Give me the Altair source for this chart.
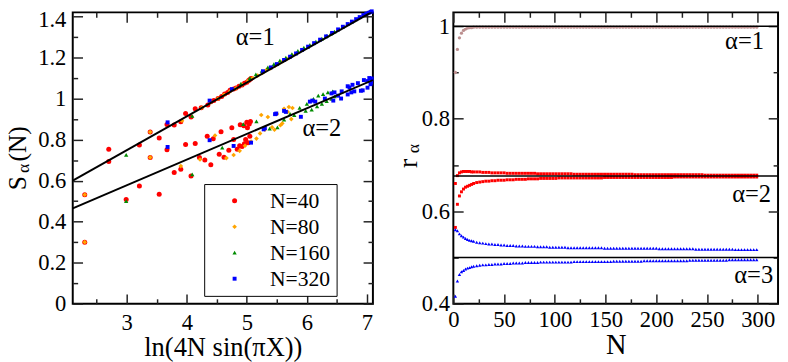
import altair as alt
import pandas as pd

FONT = "Liberation Serif"

# ---------------- left panel: S_alpha(N) vs ln(4N sin(pi X)) ----------------
series_labels = ["N=40", "N=80", "N=160", "N=320"]
series_colors = ["#ff0000", "#ffa500", "#008c00", "#0000ff"]
series_shapes = ["circle", "diamond", "triangle-up", "square"]
series_sizes = [26, 16, 30, 24]

n40_x = [2.30, 2.30, 2.70, 2.70, 2.99, 3.21, 3.21, 3.39, 3.39, 3.54, 3.54, 3.67, 3.67,
         3.79, 3.79, 3.90, 3.90, 3.98, 3.98, 4.07, 4.07, 4.14, 4.14, 4.21, 4.24, 4.30,
         4.34, 4.35, 4.40, 4.40, 4.44, 4.45, 4.52, 4.54, 4.57, 4.58, 4.62, 4.63, 4.68,
         4.70, 4.72, 4.75, 4.78, 4.78, 4.82, 4.84, 4.87, 4.88, 4.89, 4.92, 4.92, 4.95,
         4.96, 4.96, 4.98, 5.00, 5.00, 5.01, 5.02, 5.03, 5.04, 5.05, 5.05, 5.06, 5.07]
n40_y = [0.531, 0.300, 0.753, 0.693, 0.508, 0.774, 0.574, 0.837, 0.713, 0.808, 0.534, 0.874, 0.750,
         0.871, 0.640, 0.887, 0.655, 0.927, 0.776, 0.910, 0.622, 0.950, 0.781, 0.713, 0.955, 0.700,
         0.816, 0.968, 0.677, 0.985, 0.804, 0.990, 1.000, 0.729, 0.838, 1.010, 0.714, 1.022, 1.030,
         0.748, 1.040, 0.858, 0.801, 1.046, 1.052, 0.753, 1.060, 0.770, 0.872, 0.766, 1.066, 0.868,
         1.074, 0.780, 0.800, 0.884, 1.080, 0.858, 0.785, 1.088, 0.876, 0.816, 1.093, 0.888, 1.098]

n80_x = [2.30, 2.30, 3.39, 3.39, 3.90, 3.92, 4.22, 4.25, 4.40, 4.47, 4.52, 4.62, 4.66, 4.72,
         4.78, 4.82, 4.88, 4.92, 4.97, 5.02, 5.07, 5.10, 5.16, 5.18, 5.22, 5.24, 5.26, 5.30,
         5.33, 5.35, 5.40, 5.42, 5.46, 5.47, 5.50, 5.53, 5.56, 5.59, 5.60, 5.62, 5.66, 5.68,
         5.70, 5.71, 5.74, 5.76, 5.76]
n80_y = [0.531, 0.300, 0.837, 0.713, 0.671, 0.892, 0.703, 0.955, 0.983, 0.820, 1.000, 1.018, 0.710, 1.035,
         0.725, 1.050, 0.745, 1.068, 0.770, 1.085, 0.790, 1.100, 0.805, 1.112, 0.830, 0.920, 1.125, 0.848,
         1.140, 0.910, 1.148, 0.860, 0.848, 1.160, 0.925, 1.170, 0.870, 0.879, 1.182, 0.950, 1.192, 0.935,
         0.959, 1.200, 0.900, 0.954, 1.210]

n160_x = [2.99, 2.99, 4.09, 4.09, 4.59, 4.90, 4.94, 5.05, 5.16, 5.15, 5.25, 5.35, 5.38, 5.45,
          5.51, 5.55, 5.62, 5.65, 5.72, 5.75, 5.79, 5.85, 5.88, 5.95, 5.98, 6.00, 6.05, 6.08,
          6.11, 6.15, 6.17, 6.19, 6.25, 6.25, 6.27, 6.33, 6.33, 6.35, 6.40, 6.41, 6.43, 6.46, 6.46]
n160_y = [0.726, 0.500, 0.915, 0.631, 0.761, 1.072, 0.875, 1.100, 0.889, 1.118, 1.135, 1.152, 0.853, 1.168,
          0.860, 1.185, 0.897, 1.200, 0.925, 1.217, 0.919, 1.232, 0.955, 1.248, 0.940, 0.974, 1.262, 0.946,
          0.998, 1.278, 0.962, 1.014, 1.292, 0.974, 1.022, 1.306, 0.987, 1.030, 1.316, 0.998, 1.035, 1.010, 1.326]

n320_x = [3.68, 4.38, 4.75, 5.27, 5.40, 5.50, 5.62, 5.72, 5.82, 5.92, 6.02, 6.12, 6.22, 6.32,
          6.42, 6.52, 6.60, 6.68, 6.75, 6.82, 6.88, 6.94, 6.99, 7.03, 7.06, 7.08,
          3.68, 4.38, 4.78, 5.07, 5.28, 5.30, 5.47, 5.49, 5.62, 5.65, 5.90, 6.05, 6.09, 6.14,
          6.30, 6.41, 6.44, 6.46, 6.52, 6.57, 6.58, 6.68, 6.68, 6.71, 6.74, 6.76, 6.79, 6.85,
          6.90, 6.93, 6.95, 7.01, 7.01, 7.04, 7.06, 7.07, 7.08]
n320_y = [0.884, 0.990, 1.046, 1.133, 1.152, 1.168, 1.188, 1.204, 1.220, 1.237, 1.253, 1.270, 1.287, 1.303,
          1.320, 1.337, 1.350, 1.363, 1.375, 1.387, 1.397, 1.407, 1.414, 1.418, 1.422, 1.425,
          0.764, 0.797, 0.769, 0.785, 0.850, 0.856, 0.924, 0.927, 0.940, 0.935, 0.911, 0.985, 0.990, 0.985,
          1.000, 1.025, 0.990, 1.030, 1.014, 1.000, 1.035, 1.060, 1.020, 1.054, 1.030, 1.067, 1.035, 1.075,
          1.038, 1.040, 1.090, 1.053, 1.085, 1.100, 1.070, 1.078, 1.098]

fit_x = [2.1, 7.1]
fit_a1_y = [0.600, 1.425]
fit_a2_y = [0.465, 1.090]

left_ann_text = ["α=1", "α=2"]
left_ann_x = [5.14, 6.25]
left_ann_y = [1.300, 0.855]

# ---------------- right panel: r_alpha vs N ----------------
n_early = [2, 4, 6, 8, 10, 12, 14, 16, 18, 20]
n_late = list(range(23, 300, 3))

a1_early = [0.900, 0.950, 0.975, 0.985, 0.991, 0.994, 0.996, 0.997, 0.997, 0.998]
a2u_early = [0.660, 0.677, 0.683, 0.685, 0.686, 0.686, 0.686, 0.686, 0.685, 0.685]
a2l_early = [0.565, 0.615, 0.633, 0.642, 0.648, 0.652, 0.654, 0.656, 0.658, 0.660]
a3u_early = [0.560, 0.558, 0.551, 0.547, 0.544, 0.541, 0.539, 0.537, 0.536, 0.535]
a3l_early = [0.416, 0.449, 0.463, 0.469, 0.472, 0.475, 0.477, 0.478, 0.480, 0.481]

a1_late = [
    0.998, 0.998, 0.998, 0.998, 0.998, 0.998, 0.998, 0.998, 0.998, 0.998,
    0.998, 0.998, 0.998, 0.998, 0.998, 0.998, 0.998, 0.998, 0.998, 0.998,
    0.998, 0.998, 0.998, 0.998, 0.998, 0.998, 0.998, 0.998, 0.998, 0.998,
    0.998, 0.998, 0.998, 0.998, 0.998, 0.998, 0.998, 0.998, 0.998, 0.998,
    0.998, 0.998, 0.998, 0.998, 0.998, 0.998, 0.998, 0.998, 0.998, 0.998,
    0.998, 0.998, 0.998, 0.998, 0.998, 0.998, 0.998, 0.998, 0.998, 0.998,
    0.998, 0.998, 0.998, 0.998, 0.998, 0.998, 0.998, 0.998, 0.998, 0.998,
    0.998, 0.998, 0.998, 0.998, 0.998, 0.998, 0.998, 0.998, 0.998, 0.998,
    0.998, 0.998, 0.998, 0.998, 0.998, 0.998, 0.998, 0.998, 0.998, 0.998,
    0.998, 0.998, 0.998]
a2u_late = [
    0.685, 0.685, 0.684, 0.684, 0.684, 0.683, 0.683, 0.683, 0.683, 0.683,
    0.682, 0.682, 0.682, 0.682, 0.682, 0.682, 0.682, 0.682, 0.682, 0.682,
    0.681, 0.681, 0.681, 0.681, 0.681, 0.681, 0.681, 0.681, 0.681, 0.681,
    0.681, 0.681, 0.680, 0.680, 0.680, 0.680, 0.680, 0.680, 0.680, 0.680,
    0.680, 0.680, 0.680, 0.680, 0.680, 0.680, 0.680, 0.680, 0.680, 0.680,
    0.680, 0.680, 0.679, 0.679, 0.679, 0.679, 0.679, 0.679, 0.679, 0.679,
    0.679, 0.679, 0.679, 0.679, 0.679, 0.679, 0.679, 0.679, 0.679, 0.679,
    0.679, 0.679, 0.679, 0.679, 0.679, 0.678, 0.678, 0.678, 0.678, 0.678,
    0.678, 0.678, 0.678, 0.678, 0.678, 0.678, 0.678, 0.678, 0.678, 0.678,
    0.678, 0.678, 0.678]
a2l_late = [
    0.662, 0.663, 0.664, 0.665, 0.665, 0.666, 0.666, 0.667, 0.667, 0.667,
    0.668, 0.668, 0.668, 0.669, 0.669, 0.669, 0.669, 0.670, 0.670, 0.670,
    0.670, 0.671, 0.671, 0.671, 0.671, 0.671, 0.671, 0.672, 0.672, 0.672,
    0.672, 0.672, 0.672, 0.672, 0.672, 0.672, 0.672, 0.672, 0.672, 0.672,
    0.672, 0.672, 0.673, 0.673, 0.673, 0.673, 0.673, 0.673, 0.673, 0.673,
    0.673, 0.673, 0.673, 0.673, 0.673, 0.673, 0.673, 0.673, 0.673, 0.673,
    0.673, 0.673, 0.673, 0.673, 0.673, 0.674, 0.674, 0.674, 0.674, 0.674,
    0.674, 0.674, 0.674, 0.674, 0.674, 0.674, 0.674, 0.674, 0.674, 0.674,
    0.674, 0.674, 0.674, 0.674, 0.674, 0.674, 0.674, 0.674, 0.674, 0.674,
    0.674, 0.674, 0.674]
a3u_late = [
    0.533, 0.532, 0.531, 0.530, 0.529, 0.529, 0.528, 0.528, 0.527, 0.527,
    0.526, 0.526, 0.526, 0.525, 0.525, 0.525, 0.524, 0.524, 0.524, 0.524,
    0.523, 0.523, 0.523, 0.523, 0.522, 0.522, 0.522, 0.522, 0.522, 0.522,
    0.521, 0.521, 0.521, 0.521, 0.521, 0.521, 0.521, 0.521, 0.521, 0.521,
    0.521, 0.521, 0.520, 0.520, 0.520, 0.520, 0.520, 0.520, 0.520, 0.520,
    0.520, 0.520, 0.520, 0.520, 0.520, 0.520, 0.520, 0.520, 0.520, 0.520,
    0.519, 0.519, 0.519, 0.519, 0.519, 0.519, 0.519, 0.519, 0.519, 0.519,
    0.519, 0.519, 0.518, 0.518, 0.518, 0.518, 0.518, 0.518, 0.518, 0.518,
    0.518, 0.518, 0.518, 0.518, 0.518, 0.517, 0.517, 0.517, 0.517, 0.517,
    0.517, 0.517, 0.517]
a3l_late = [
    0.482, 0.483, 0.484, 0.484, 0.485, 0.485, 0.486, 0.486, 0.486, 0.487,
    0.487, 0.487, 0.488, 0.488, 0.488, 0.488, 0.489, 0.489, 0.489, 0.489,
    0.489, 0.490, 0.490, 0.490, 0.490, 0.490, 0.490, 0.490, 0.490, 0.490,
    0.490, 0.490, 0.491, 0.491, 0.491, 0.491, 0.491, 0.491, 0.491, 0.491,
    0.491, 0.491, 0.491, 0.491, 0.491, 0.492, 0.492, 0.492, 0.492, 0.492,
    0.492, 0.492, 0.492, 0.492, 0.492, 0.493, 0.493, 0.493, 0.493, 0.493,
    0.493, 0.493, 0.493, 0.493, 0.493, 0.493, 0.493, 0.493, 0.493, 0.493,
    0.494, 0.494, 0.494, 0.494, 0.494, 0.494, 0.494, 0.494, 0.494, 0.494,
    0.494, 0.494, 0.494, 0.495, 0.495, 0.495, 0.495, 0.495, 0.495, 0.495,
    0.495, 0.495, 0.495]

branch_names = ["a1", "a2u", "a2l", "a3u", "a3l"]
branch_colors = ["#bc8f8f", "#ff0000", "#ff0000", "#0000ff", "#0000ff"]
branch_shapes = ["circle", "square", "square", "triangle-up", "triangle-up"]
branch_sizes = [11, 9, 9, 12, 12]

ref_lines = [1.0, 0.676, 0.5]
right_ann_text = ["α=1", "α=2", "α=3"]
right_ann_x = [287, 294, 296]
right_ann_y = [0.968, 0.637, 0.462]

# ---------------- build tables ----------------
rows = []
for lab, xs, ys in zip(series_labels, [n40_x, n80_x, n160_x, n320_x], [n40_y, n80_y, n160_y, n320_y]):
    rows += [{"x": a, "y": b, "series": lab} for a, b in zip(xs, ys)]
scatter_df = pd.DataFrame(rows)

fit_df = pd.DataFrame({
    "x": fit_x + fit_x,
    "y": fit_a1_y + fit_a2_y,
    "branch": ["a1", "a1", "a2", "a2"],
})
left_ann_df = pd.DataFrame({"x": left_ann_x, "y": left_ann_y, "t": left_ann_text})

branch_vals = {
    "a1": a1_early + a1_late, "a2u": a2u_early + a2u_late, "a2l": a2l_early + a2l_late,
    "a3u": a3u_early + a3u_late, "a3l": a3l_early + a3l_late,
}
n_all = n_early + n_late
branch_dfs = {b: pd.DataFrame({"n": n_all[:len(branch_vals[b])], "r": branch_vals[b]})
              for b in branch_names}
ref_df = pd.DataFrame({"y": ref_lines})
right_ann_df = pd.DataFrame({"x": right_ann_x, "y": right_ann_y, "t": right_ann_text})

# ---------------- helpers ----------------
TICK_COLOR = "#222222"
LABEL_SIZE = 23


def frame_axes(xscale, yscale, xdom, ydom, xmaj, xmin, ymaj, ymin, xlab_pad, ylab_pad,
               xtitle, xtitle_size, xtitle_pad, label_size, ylab_offset=0):
    base = dict(domain=False, grid=False, tickColor=TICK_COLOR, tickWidth=1.5,
                labelFlush=False, labelOverlap=False, labelFont=FONT,
                labelFontSize=label_size, labelColor="black", format="~r")
    pairs = [
        (alt.Axis(orient="bottom", values=xmaj, tickSize=10, offset=-10, labelPadding=xlab_pad,
                  title=xtitle, titleFont=FONT, titleFontSize=xtitle_size, titleFontWeight="normal",
                  titleColor="black", titlePadding=xtitle_pad, **base),
         alt.Axis(orient="left", values=ymaj, tickSize=10, offset=-10, labelPadding=ylab_pad,
                  labelOffset=ylab_offset, title=None, **base)),
        (alt.Axis(orient="bottom", values=xmin, tickSize=5, offset=-5, labels=False, title=None, **base),
         alt.Axis(orient="left", values=ymin, tickSize=5, offset=-5, labels=False, title=None, **base)),
        (alt.Axis(orient="top", values=xmaj, tickSize=10, offset=-10, labels=False, title=None, **base),
         alt.Axis(orient="right", values=ymaj, tickSize=10, offset=-10, labels=False, title=None, **base)),
        (alt.Axis(orient="top", values=xmin, tickSize=5, offset=-5, labels=False, title=None, **base),
         alt.Axis(orient="right", values=ymin, tickSize=5, offset=-5, labels=False, title=None, **base)),
    ]
    dummy = pd.DataFrame({"x": [xdom[0]], "y": [ydom[0]]})
    layers = []
    for ax_x, ax_y in pairs:
        layers.append(
            alt.Chart(dummy).mark_point(opacity=0).encode(
                x=alt.X("x:Q", scale=xscale, axis=ax_x),
                y=alt.Y("y:Q", scale=yscale, axis=ax_y),
            )
        )
    return layers


def text_piece(txt, size, xpx, ypx):
    return alt.Chart(pd.DataFrame({"t": [txt]})).mark_text(
        text=txt, font=FONT, fontSize=size, color="black", angle=270,
        align="center", baseline="middle"
    ).encode(x=alt.value(xpx), y=alt.value(ypx))


H = 297

# ---------------- left panel ----------------
LX = [2.1, 7.1]
LY = [0.0, 1.42]
lxs = alt.Scale(domain=LX, nice=False, zero=False)
lys = alt.Scale(domain=LY, nice=False, zero=False)

top_label_shift = {"condition": {"test": "datum.value > 1.35", "value": 3}, "value": 0}

left_axes = frame_axes(lxs, lys, LX, LY, [3, 4, 5, 6, 7], [2.5, 3.5, 4.5, 5.5, 6.5],
                       [0, 0.2, 0.4, 0.6, 0.8, 1, 1.2, 1.4],
                       [0.1, 0.3, 0.5, 0.7, 0.9, 1.1, 1.3],
                       8, 7, "ln(4N sin(πX))", 27, 1, LABEL_SIZE, top_label_shift)

legend = alt.Legend(orient="none", legendX=134, legendY=175, title=None,
                    strokeColor="black", fillColor="white", padding=6, rowPadding=4.5,
                    symbolOffset=14, labelOffset=25, labelFont=FONT, labelFontSize=22,
                    labelColor="black", symbolStrokeWidth=0, cornerRadius=0)

scatter = alt.Chart(scatter_df).mark_point(filled=True, opacity=1).encode(
    x=alt.X("x:Q", scale=lxs, axis=None),
    y=alt.Y("y:Q", scale=lys, axis=None),
    color=alt.Color("series:N", scale=alt.Scale(domain=series_labels, range=series_colors), legend=legend),
    shape=alt.Shape("series:N", scale=alt.Scale(domain=series_labels, range=series_shapes), legend=legend),
    size=alt.Size("series:N", scale=alt.Scale(domain=series_labels, range=series_sizes), legend=legend),
)

fits = alt.Chart(fit_df).mark_line(color="black", strokeWidth=2, clip=True).encode(
    x=alt.X("x:Q", scale=lxs, axis=None),
    y=alt.Y("y:Q", scale=lys, axis=None),
    detail="branch:N",
)

left_ann = alt.Chart(left_ann_df).mark_text(font=FONT, fontSize=25, color="black",
                                            align="center", baseline="middle").encode(
    x=alt.X("x:Q", scale=lxs, axis=None),
    y=alt.Y("y:Q", scale=lys, axis=None),
    text="t:N",
)

left_title = [text_piece("S", 26, -56, 174), text_piece("α", 18, -50, 159),
              text_piece("(N)", 26, -56, 134)]

left = alt.layer(*left_axes, scatter, fits, left_ann, *left_title).resolve_axis(
    x="independent", y="independent").properties(width=306, height=H)

# ---------------- right panel ----------------
RX = [0, 320]
RY = [0.4, 1.03]
rxs = alt.Scale(domain=RX, nice=False, zero=False)
rys = alt.Scale(domain=RY, nice=False, zero=False)

right_axes = frame_axes(rxs, rys, RX, RY, [0, 50, 100, 150, 200, 250, 300],
                        [25, 75, 125, 175, 225, 275],
                        [0.4, 0.6, 0.8, 1.0], [0.5, 0.7, 0.9],
                        5, 4, "N", 29, 0, LABEL_SIZE)

r_layers = []
for b, c, s, sz in zip(branch_names, branch_colors, branch_shapes, branch_sizes):
    r_layers.append(
        alt.Chart(branch_dfs[b]).mark_point(filled=True, opacity=1, color=c, shape=s, size=sz).encode(
            x=alt.X("n:Q", scale=rxs, axis=None),
            y=alt.Y("r:Q", scale=rys, axis=None),
        )
    )

r_rules = alt.Chart(ref_df).mark_rule(color="black", strokeWidth=1.5).encode(
    y=alt.Y("y:Q", scale=rys, axis=None),
)

right_ann = alt.Chart(right_ann_df).mark_text(font=FONT, fontSize=25, color="black",
                                              align="center", baseline="middle").encode(
    x=alt.X("x:Q", scale=rxs, axis=None),
    y=alt.Y("y:Q", scale=rys, axis=None),
    text="t:N",
)

right_title = [text_piece("r", 28, -45, 154), text_piece("α", 18, -40, 139)]

right = alt.layer(*right_axes, *r_layers, r_rules, right_ann, *right_title).resolve_axis(
    x="independent", y="independent").properties(width=331, height=H)

chart = alt.hconcat(left, right, spacing=20).resolve_scale(
    color="independent", shape="independent", size="independent"
).configure_view(
    stroke="black", strokeWidth=2
).properties(
    background="white",
    padding={"left": -4, "top": -4, "right": 0, "bottom": 0},
)

chart.save("out.html", embed_options={"renderer": "svg", "actions": False})
